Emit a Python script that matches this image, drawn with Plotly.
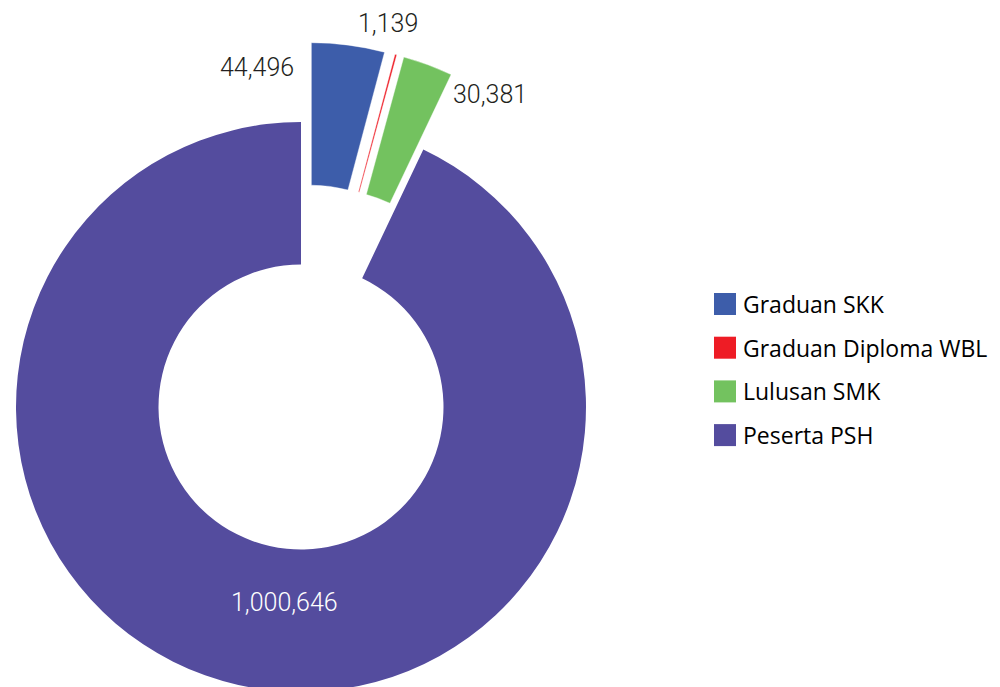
import math
import plotly.graph_objects as go

# ---- data ----
labels = ["Graduan SKK", "Graduan Diploma WBL", "Lulusan SMK", "Peserta PSH"]
values = [44496, 1139, 30381, 1000646]
colors = ["#3D5DAA", "#EE1C25", "#73C25F", "#544C9E"]
pulled = [True, True, True, False]

# ---- layout constants (pixels, in screen coordinates) ----
W, H = 1000, 687
OFF = 8                     # page body margin offset
CX, CY, R = 301, 407, 285
HOLE = 0.5
PULL_PX = 80

total = sum(values)


def fx(px):
    return (px - OFF) / W


def fy(py):
    return 1 - (py - OFF) / H


def domain(cx, cy, r):
    return dict(x=[max(0.0, fx(cx - r)), min(1.0, fx(cx + r))],
                y=[max(0.0, fy(cy + r)), min(1.0, fy(cy - r))])


fig = go.Figure()

cum = 0.0
bisectors = []
for v in values:
    ang = v / total * 360.0
    bisectors.append(cum + ang / 2)
    cum += ang

order = [i for i in range(len(values)) if not pulled[i]] + [i for i in range(len(values)) if pulled[i]]
for i in order:
    if pulled[i]:
        th = math.radians(bisectors[i])
        cx = CX + PULL_PX * math.sin(th)
        cy = CY - PULL_PX * math.cos(th)
    else:
        cx, cy = CX, CY
    cols = [colors[j] if j == i else "rgba(0,0,0,0)" for j in range(len(values))]
    lw = [0.4 if (j == i and pulled[i]) else 0 for j in range(len(values))]
    fig.add_trace(go.Pie(
        labels=labels, values=values, sort=False, direction="clockwise", rotation=0,
        hole=HOLE, domain=domain(cx, cy, R),
        marker=dict(colors=cols, line=dict(color="white", width=lw)),
        textinfo="none", hoverinfo="label+value", showlegend=False,
    ))

# value labels
label_pos = [(257, 68), (388, 23), (490, 95), (284, 602)]
label_col = ["#231F20", "#231F20", "#231F20", "#FFFFFF"]
for i, v in enumerate(values):
    px, py = label_pos[i]
    fig.add_annotation(x=fx(px), y=fy(py), xref="paper", yref="paper",
                       text=f"{v:,}", showarrow=False, xanchor="center", yanchor="middle",
                       font=dict(family="Roboto, sans-serif", size=25, weight=300,
                                 color=label_col[i]))

# legend
LEG_X, LEG_Y0, LEG_DY, SQ = 714, 304, 43.7, 22
for i, lab in enumerate(labels):
    yc = LEG_Y0 + i * LEG_DY
    fig.add_shape(type="rect", xref="paper", yref="paper",
                  x0=fx(LEG_X), x1=fx(LEG_X + SQ),
                  y0=fy(yc + SQ / 2), y1=fy(yc - SQ / 2),
                  fillcolor=colors[i], line=dict(width=0))
    fig.add_annotation(x=fx(LEG_X + SQ + 5), y=fy(yc), xref="paper", yref="paper",
                       text=lab, showarrow=False, xanchor="left", yanchor="middle",
                       font=dict(family="Open Sans, Noto Sans, sans-serif", size=23, color="#000000"))

fig.update_layout(width=W, height=H, margin=dict(l=0, r=0, t=0, b=0),
                  paper_bgcolor="white", plot_bgcolor="white", showlegend=False)

fig.write_html("out.html")
